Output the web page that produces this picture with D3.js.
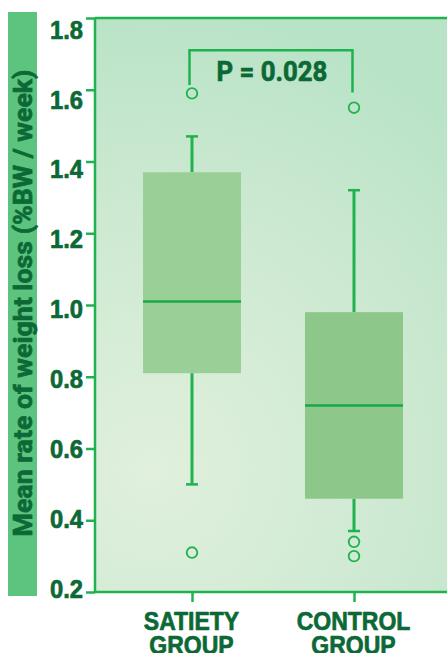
<!DOCTYPE html>
<html>
<head>
<meta charset="utf-8">
<script src="https://cdn.jsdelivr.net/npm/d3@7"></script>
<style>
  html, body { margin: 0; padding: 0; background: #ffffff; }
  svg { display: block; font-family: Roboto, "Noto Sans", "DejaVu Sans", sans-serif; font-weight: 700; }
  text.heavy { stroke: #0c6936; stroke-width: 0.7px; stroke-linejoin: round; }
</style>
</head>
<body>
<svg id="chart" width="447" height="653"></svg>
<script>
// Group names (two-line category labels)
const groups = ["SATIETY GROUP", "CONTROL GROUP"];
// Five-number summaries per group
const whiskerLow  = [0.50, 0.37];
const boxLow      = [0.81, 0.46];
const medians     = [1.01, 0.72];
const boxHigh     = [1.37, 0.98];
const whiskerHigh = [1.47, 1.32];
// Points beyond the whiskers
const outliers = [
  [1.59, 0.31],
  [1.55, 0.34, 0.30]
];
// Y axis ticks
const yTicks = [0.2, 0.4, 0.6, 0.8, 1.0, 1.2, 1.4, 1.6, 1.8];
// Significance bracket
const pLabel = "P = 0.028";
const bracketTop = 1.71;
const bracketLegEnds = [1.613, 1.592];

const plot = { left: 95, right: 447, top: 18, bottom: 592 };
const green = "#1fb24f";
const dark = "#0c6936";
const boxFills = ["#9acf97", "#8dc78a"];

// squeeze a text horizontally so a large bold face reads as a condensed one
function condense(sel, f) {
  sel.each(function () {
    const len = this.getComputedTextLength();
    d3.select(this).attr("textLength", len * f).attr("lengthAdjust", "spacingAndGlyphs");
  });
}

const svg = d3.select("#chart");
const defs = svg.append("defs");
const grad = defs.append("radialGradient")
  .attr("id", "bg").attr("gradientUnits", "userSpaceOnUse")
  .attr("cx", 150).attr("cy", 470).attr("r", 470);
grad.append("stop").attr("offset", 0).attr("stop-color", "#e0f0dd");
grad.append("stop").attr("offset", 0.55).attr("stop-color", "#cde9d1");
grad.append("stop").attr("offset", 1).attr("stop-color", "#b8e3c6");

const y = d3.scaleLinear().domain([0.2, 1.8]).range([plot.bottom, plot.top]);
// tick labels sit on a slightly tighter vertical spread than the tick marks
const yLab = d3.scaleLinear().domain([0.2, 1.8]).range([589, 30]);
const x = d3.scalePoint().domain(groups).range([192, 354]);
const boxW = 98, capW = 12;

// Plot background
svg.append("rect")
  .attr("x", plot.left).attr("y", plot.top)
  .attr("width", plot.right - plot.left).attr("height", plot.bottom - plot.top)
  .attr("fill", "url(#bg)");

// Y title band
svg.append("rect").attr("x", 8).attr("y", 12).attr("width", 29).attr("height", 584).attr("fill", "#5cc47e");
svg.append("text")
  .attr("class", "heavy")
  .attr("transform", "translate(31.5,303) rotate(-90)")
  .attr("text-anchor", "middle")
  .attr("font-size", 26)
  .attr("fill", dark)
  .attr("textLength", 467)
  .attr("lengthAdjust", "spacingAndGlyphs")
  .text("Mean rate of weight loss (%BW / week)");

// Boxes
const data = groups.map((g, i) => ({
  g, lo: whiskerLow[i], q1: boxLow[i], med: medians[i], q3: boxHigh[i], hi: whiskerHigh[i],
  out: outliers[i], fill: boxFills[i]
}));

const gBox = svg.append("g").selectAll("g").data(data).join("g")
  .attr("transform", d => `translate(${x(d.g)},0)`);

gBox.append("line").attr("x1", 0).attr("x2", 0)
  .attr("y1", d => y(d.hi)).attr("y2", d => y(d.q3))
  .attr("stroke", green).attr("stroke-width", 3);
gBox.append("line").attr("x1", 0).attr("x2", 0)
  .attr("y1", d => y(d.q1)).attr("y2", d => y(d.lo))
  .attr("stroke", green).attr("stroke-width", 3);
gBox.append("line").attr("x1", -capW / 2).attr("x2", capW / 2)
  .attr("y1", d => y(d.hi)).attr("y2", d => y(d.hi))
  .attr("stroke", green).attr("stroke-width", 2.5);
gBox.append("line").attr("x1", -capW / 2).attr("x2", capW / 2)
  .attr("y1", d => y(d.lo)).attr("y2", d => y(d.lo))
  .attr("stroke", green).attr("stroke-width", 2.5);
gBox.append("rect")
  .attr("x", -boxW / 2).attr("width", boxW)
  .attr("y", d => y(d.q3)).attr("height", d => y(d.q1) - y(d.q3))
  .attr("fill", d => d.fill);
gBox.append("line").attr("x1", -boxW / 2).attr("x2", boxW / 2)
  .attr("y1", d => y(d.med)).attr("y2", d => y(d.med))
  .attr("stroke", "#17a847").attr("stroke-width", 2.5);
gBox.selectAll("circle").data(d => d.out).join("circle")
  .attr("cx", 0).attr("cy", v => y(v)).attr("r", 5.3)
  .attr("fill", "none").attr("stroke", green).attr("stroke-width", 1.8);

// Significance bracket
const bx0 = x(groups[0]) - 2.5, bx1 = x(groups[1]) - 1.5;
svg.append("path")
  .attr("d", `M${bx0},${y(bracketLegEnds[0])}V${y(bracketTop)}H${bx1}V${y(bracketLegEnds[1])}`)
  .attr("fill", "none").attr("stroke", green).attr("stroke-width", 2.5);
svg.append("text")
  .attr("class", "heavy")
  .attr("x", (bx0 + bx1) / 2 + 1).attr("y", 80.5)
  .attr("text-anchor", "middle").attr("font-size", 28).attr("fill", dark)
  .text(pLabel)
  .call(condense, 0.92);

// Top frame line
svg.append("line").attr("x1", plot.left).attr("x2", plot.right)
  .attr("y1", plot.top).attr("y2", plot.top)
  .attr("stroke", green).attr("stroke-width", 2.5);

// Y axis
const yAxis = svg.append("g").attr("transform", `translate(${plot.left},0)`)
  .call(d3.axisLeft(y).tickValues(yTicks).tickFormat(d3.format(".1f")).tickSize(9).tickPadding(3));
yAxis.select(".domain").attr("stroke", green).attr("stroke-width", 2.5).attr("d", `M0,${plot.bottom}V${plot.top}`);
yAxis.selectAll(".tick line").attr("stroke", green).attr("stroke-width", 2.5);
yAxis.selectAll(".tick text")
  .attr("class", "heavy")
  .attr("y", d => yLab(d) - y(d))
  .attr("fill", dark).attr("font-size", 25.5).attr("font-family", null).attr("font-weight", 700)
  .call(condense, 0.93);

// X axis
const xAxis = svg.append("g").attr("transform", `translate(0,${plot.bottom})`)
  .call(d3.axisBottom(x).tickSize(10).tickFormat(""));
xAxis.select(".domain").attr("stroke", green).attr("stroke-width", 2.5).attr("d", `M${plot.left},0H${plot.right}`);
xAxis.selectAll(".tick line").attr("stroke", green).attr("stroke-width", 2.5);
xAxis.selectAll(".tick").append("g").selectAll("text").data(d => d.split(" ")).join("text")
  .attr("class", "heavy")
  .attr("text-anchor", "middle").attr("fill", dark).attr("font-size", 25)
  .attr("x", -1).attr("y", (t, i) => 37.5 + i * 24.5).text(t => t)
  .call(condense, 0.92);
</script>
</body>
</html>
